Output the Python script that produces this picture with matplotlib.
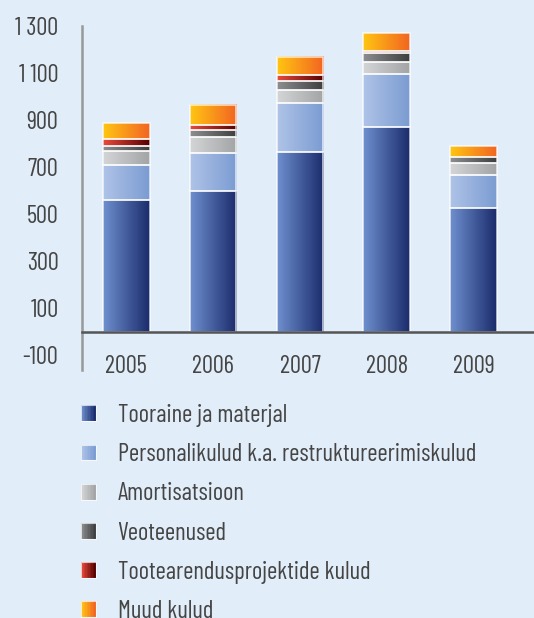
import numpy as np
import matplotlib
matplotlib.use("Agg")
import matplotlib.pyplot as plt
from matplotlib.colors import LinearSegmentedColormap, to_rgb
from matplotlib.patches import Rectangle
from matplotlib.legend_handler import HandlerBase

plt.rcParams['font.family'] = ['Barlow Condensed', 'DejaVu Sans']

# data
years = ['2005', '2006', '2007', '2008', '2009']
tooraine = [561, 597, 763, 872, 525]
personal = [149, 164, 208, 222, 140]
amort = [59, 65, 55, 54, 51]
veo = [22, 30, 42, 38, 27]
tootearendus = [28, 21, 22, 8, 0]
muud = [67, 87, 80, 75, 45]

series = [tooraine, personal, amort, veo, tootearendus, muud]
labels = ['Tooraine ja materjal',
          'Personalikulud k.a. restruktureerimiskulud',
          'Amortisatsioon',
          'Veoteenused',
          'Tootearendusprojektide kulud',
          'Muud kulud']
# left -> right gradient colours of each series
grads = [('#6e8fce', '#1b2c6c'),
         ('#afc3e7', '#7b9cd2'),
         ('#d4d5d7', '#a3a4a6'),
         ('#8d8e90', '#3e3f40'),
         ('#ea4a3c', '#560000'),
         ('#ffc512', '#f26522')]
yticks = [-100, 100, 300, 500, 700, 900, 1100, 1300]

bg = '#e1edf8'
txt = '#454545'
fs = 17.8

fig = plt.figure(figsize=(5.34, 6.18), dpi=100, facecolor=bg)
ax = fig.add_axes([82/534, 1-370/618, 1-82/534, 344/618])
ax.set_facecolor(bg)

x = np.arange(len(years))
bottom = np.zeros(len(years))
grad = np.linspace(0, 1, 64).reshape(1, -1)
for vals, (c0, c1) in zip(series, grads):
    cmap = LinearSegmentedColormap.from_list('g', [c0, c1])
    bars = ax.bar(x, vals, 0.54, bottom=bottom, facecolor='none',
                  edgecolor=(1, 1, 1, 0.75), linewidth=1.2, zorder=3)
    for p, v in zip(bars.patches, vals):
        if v <= 0:
            p.set_visible(False)
            continue
        x0, y0 = p.get_x(), p.get_y()
        ax.imshow(grad, cmap=cmap, aspect='auto', zorder=2,
                  extent=[x0, x0 + p.get_width(), y0, y0 + p.get_height()])
    bottom += np.array(vals)

ax.set_xlim(-0.506, 4.69)
ax.set_ylim(-163, 1296)

ax.set_yticks(yticks)
ax.set_yticklabels([f'{t:,}'.replace(',', ' ') for t in yticks])
ax.set_xticks(x)
ax.set_xticklabels(years)
ax.tick_params(length=0, labelsize=fs, labelcolor=txt)
ax.tick_params(axis='y', pad=17)
ax.tick_params(axis='x', pad=16.5)

for s in ['top', 'right']:
    ax.spines[s].set_visible(False)
ax.spines['left'].set_color('#999999')
ax.spines['left'].set_linewidth(1.8)
ax.spines['bottom'].set_position(('data', 0))
ax.spines['bottom'].set_color('#555555')
ax.spines['bottom'].set_linewidth(1.8)
ax.spines['bottom'].set_zorder(4)


class GradHandler(HandlerBase):
    def __init__(self, c0, c1):
        super().__init__()
        self.c0, self.c1 = np.array(to_rgb(c0)), np.array(to_rgb(c1))

    def create_artists(self, legend, orig_handle, xdescent, ydescent,
                       width, height, fontsize, trans):
        n = 10
        out = []
        for i in range(n):
            c = self.c0 + (self.c1 - self.c0) * i / (n - 1)
            out.append(Rectangle((-xdescent + width * i / n, -ydescent),
                                 width / n + 0.3, height, facecolor=c,
                                 edgecolor='none', transform=trans))
        out.append(Rectangle((-xdescent, -ydescent), width, height,
                             facecolor='none', edgecolor=(1, 1, 1, 0.7),
                             linewidth=0.8, transform=trans))
        return out


handles = [Rectangle((0, 0), 1, 1) for _ in labels]
hmap = {h: GradHandler(*g) for h, g in zip(handles, grads)}
leg = fig.legend(handles, labels, handler_map=hmap,
                 loc='upper left', bbox_to_anchor=(81/534, 1-404/618),
                 frameon=False, fontsize=fs, labelcolor=txt,
                 handlelength=0.6, handleheight=0.6, handletextpad=0.88,
                 labelspacing=0.655, borderpad=0, borderaxespad=0)

fig.savefig('out.png', dpi=100, facecolor=bg)
